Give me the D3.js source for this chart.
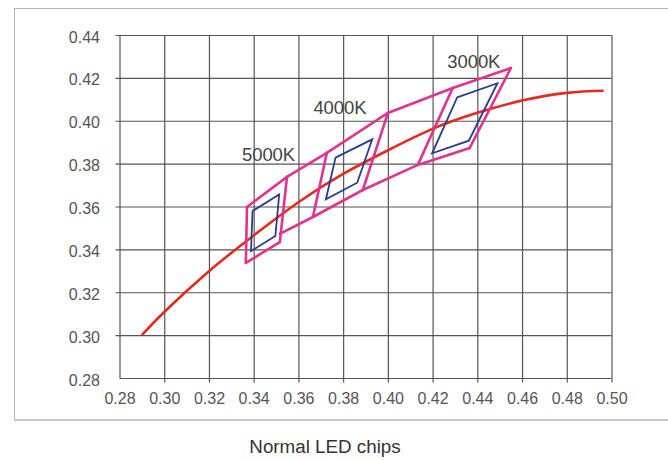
<!DOCTYPE html>
<html>
<head>
<meta charset="utf-8">
<script src="https://cdn.jsdelivr.net/npm/d3@7"></script>
<style>
  html, body { margin: 0; padding: 0; background: #ffffff; }
  svg { display: block; font-family: "Liberation Sans", Arial, Helvetica, sans-serif; }
</style>
</head>
<body>
<svg id="chart" width="668" height="460"></svg>
<script>
// ---- Data ----
const xTicks = [0.28, 0.30, 0.32, 0.34, 0.36, 0.38, 0.40, 0.42, 0.44, 0.46, 0.48, 0.50];
const yTicks = [0.28, 0.30, 0.32, 0.34, 0.36, 0.38, 0.40, 0.42, 0.44];

// Black-body (Planckian) locus as drawn in the figure
const locusX = [0.290, 0.300, 0.320, 0.340, 0.360, 0.380, 0.400, 0.420, 0.440, 0.460, 0.480, 0.4965];
const locusY = [0.300, 0.3108, 0.3298, 0.3465, 0.3620, 0.3752, 0.3862, 0.3962, 0.4037, 0.4094, 0.4130, 0.4140];

// Outer (pink) bin outlines: polylines of [x, y]
const pinkTop = [[0.3370, 0.3598], [0.3549, 0.3738], [0.3727, 0.3850], [0.4000, 0.4036], [0.4290, 0.4153], [0.4550, 0.4246]];
const pink5000Bottom = [[0.3365, 0.3337], [0.3517, 0.3434]];
const pinkBottom = [[0.3517, 0.3472], [0.3665, 0.3551], [0.3888, 0.3677], [0.4134, 0.3794], [0.4366, 0.3873]];
const pinkSides = [
  [[0.3370, 0.3598], [0.3365, 0.3337]],
  [[0.3549, 0.3738], [0.3517, 0.3434]],
  [[0.3727, 0.3850], [0.3665, 0.3551]],
  [[0.4000, 0.4036], [0.3888, 0.3677]],
  [[0.4290, 0.4153], [0.4134, 0.3794]],
  [[0.4550, 0.4246], [0.4366, 0.3873]]
];

// Inner (blue) bins: closed quadrilaterals
const blue5000 = [[0.3395, 0.3579], [0.3514, 0.3656], [0.3497, 0.3462], [0.3388, 0.3392]];
const blue4000 = [[0.3766, 0.3828], [0.3930, 0.3913], [0.3863, 0.3711], [0.3723, 0.3634]];
const blue3000 = [[0.4310, 0.4109], [0.4490, 0.4175], [0.4362, 0.3907], [0.4198, 0.3848]];

// CCT labels
const cctLabels = ["5000K", "4000K", "3000K"];
const cctLabelPos = [[0.3348, 0.3810], [0.3667, 0.4030], [0.4266, 0.4245]];

const chartTitle = "Normal LED chips";

// ---- Drawing ----
const svg = d3.select("#chart");

// Outer frame
svg.append("rect")
  .attr("x", 14.5).attr("y", 8.5)
  .attr("width", 720).attr("height", 411)
  .attr("fill", "none")
  .attr("stroke", "#b4b4b4")
  .attr("stroke-width", 1);
svg.append("line")
  .attr("x1", 14).attr("x2", 668)
  .attr("y1", 420).attr("y2", 420)
  .attr("stroke", "#c8c8c8")
  .attr("stroke-width", 2);

const x = d3.scaleLinear().domain([0.28, 0.50]).range([119.5, 611.5]);
const y = d3.scaleLinear().domain([0.28, 0.44]).range([378, 35]);

const gridColor = "#555555";
const labelColor = "#555555";

// Y axis with grid lines
const yAxis = d3.axisLeft(y)
  .tickValues(yTicks)
  .tickFormat(d3.format(".2f"))
  .tickSizeOuter(0)
  .tickSizeInner(-(x(0.50) - x(0.28)));
const gy = svg.append("g").attr("transform", `translate(${x(0.28)},0)`).call(yAxis);
gy.select(".domain").remove();
gy.selectAll(".tick line")
  .attr("x1", d => d === 0.28 ? 0 : -4)
  .attr("x2", x(0.50) - x(0.28))
  .attr("stroke", gridColor)
  .attr("stroke-width", 1.2);
gy.selectAll(".tick text")
  .attr("x", -19.5)
  .attr("dy", "0.44em")
  .attr("fill", labelColor)
  .attr("font-size", 16)
  .attr("font-family", "Liberation Sans, Arial, sans-serif")
  .attr("text-anchor", "end");

// X axis with grid lines
const xAxis = d3.axisBottom(x)
  .tickValues(xTicks)
  .tickFormat(d3.format(".2f"))
  .tickSizeOuter(0)
  .tickSizeInner(-(y(0.28) - y(0.44)));
const gx = svg.append("g").attr("transform", `translate(0,${y(0.28)})`).call(xAxis);
gx.select(".domain").remove();
gx.selectAll(".tick line")
  .attr("y1", d => d === 0.28 ? 0 : 4.5)
  .attr("y2", -(y(0.28) - y(0.44)))
  .attr("stroke", gridColor)
  .attr("stroke-width", 1.2);
gx.selectAll(".tick text")
  .attr("y", 26)
  .attr("dy", 0)
  .attr("fill", labelColor)
  .attr("font-size", 16)
  .attr("font-family", "Liberation Sans, Arial, sans-serif");

// Planckian locus (red)
const locus = locusX.map((v, i) => [v, locusY[i]]);
const smoothLine = d3.line().x(d => x(d[0])).y(d => y(d[1])).curve(d3.curveNatural);
svg.append("path")
  .datum(locus)
  .attr("d", smoothLine)
  .attr("fill", "none")
  .attr("stroke", "#e42a1e")
  .attr("stroke-width", 2.6);

// Pink outer bins
const straight = d3.line().x(d => x(d[0])).y(d => y(d[1]));
const pinkColor = "#e0338e";
const pinkLines = [pinkTop, pink5000Bottom, pinkBottom, ...pinkSides];
svg.append("g").selectAll("path")
  .data(pinkLines)
  .join("path")
  .attr("d", straight)
  .attr("fill", "none")
  .attr("stroke", pinkColor)
  .attr("stroke-width", 2.6)
  .attr("stroke-linejoin", "miter")
  .attr("stroke-linecap", "round");

// Blue inner bins
const closed = d3.line().x(d => x(d[0])).y(d => y(d[1])).curve(d3.curveLinearClosed);
svg.append("g").selectAll("path")
  .data([blue5000, blue4000, blue3000])
  .join("path")
  .attr("d", closed)
  .attr("fill", "none")
  .attr("stroke", "#2e3a8c")
  .attr("stroke-width", 1.8)
  .attr("stroke-linejoin", "miter");

// CCT labels
svg.append("g").selectAll("text")
  .data(cctLabels)
  .join("text")
  .attr("x", (d, i) => x(cctLabelPos[i][0]))
  .attr("y", (d, i) => y(cctLabelPos[i][1]))
  .attr("fill", "#444444")
  .attr("font-size", 18.5)
  .attr("letter-spacing", -0.1)
  .text(d => d);

// Title below chart
svg.append("text")
  .attr("x", 325)
  .attr("y", 453)
  .attr("text-anchor", "middle")
  .attr("fill", "#333333")
  .attr("font-size", 18.8)
  .text(chartTitle);
</script>
</body>
</html>
